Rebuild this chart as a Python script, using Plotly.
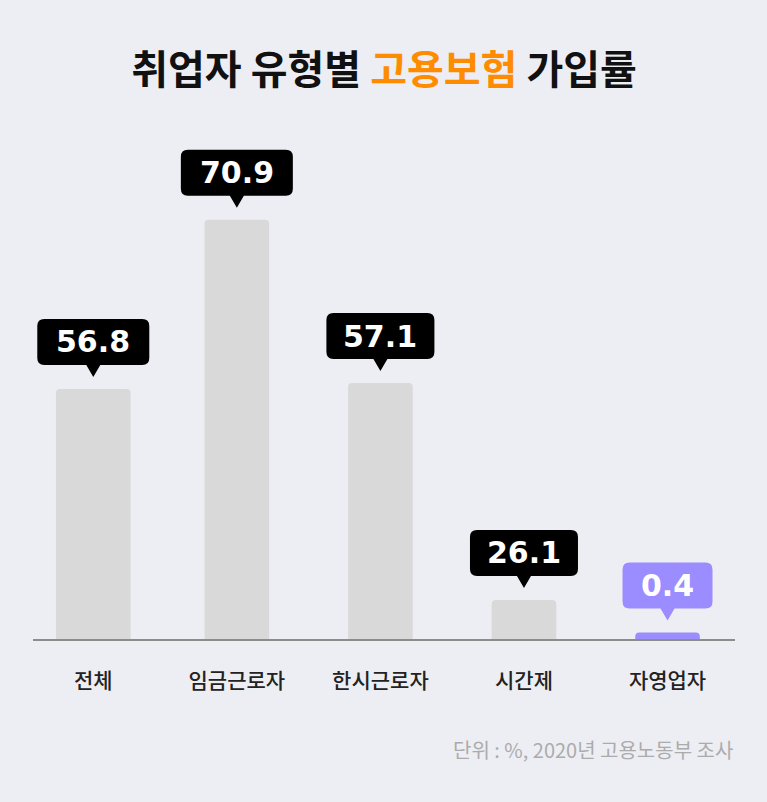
import plotly.graph_objects as go

categories = ["전체", "임금근로자", "한시근로자", "시간제", "자영업자"]
rates = [56.8, 70.9, 57.1, 26.1, 0.4]
# the infographic does not draw its bars to scale, so the drawn heights are read
# off the picture (same units, with the 70.9 bar as the reference)
bar_heights = [42.3, 70.9, 43.3, 6.6, 1.1]
highlight = "자영업자"

title_text = "취업자 유형별 <span style='color:#FF8C00'>고용보험</span> 가입률"
source_text = "단위 : %, 2020년 고용노동부 조사"

GRAY = "#D9D9D9"
PURPLE = "#9B8CFF"
BG = "#EDEEF3"
KR = "Noto Sans CJK KR"


def callout_path(half_w, r=7, tip=12, gap=24, h=46):
    # speech bubble in pixels, relative to the top of the bar (y up)
    top = gap + h
    return (f"M -7,{gap} L 0,{tip} L 7,{gap} L {half_w - r},{gap} "
            f"Q {half_w},{gap} {half_w},{gap + r} L {half_w},{top - r} "
            f"Q {half_w},{top} {half_w - r},{top} L {-half_w + r},{top} "
            f"Q {-half_w},{top} {-half_w},{top - r} L {-half_w},{gap + r} "
            f"Q {-half_w},{gap} {-half_w + r},{gap} Z")


def label_width(txt):
    cw = {".": 10, "1": 18}
    return 36 + sum(cw.get(ch, 22) for ch in txt)


bar_colors = [PURPLE if c == highlight else GRAY for c in categories]

fig = go.Figure(go.Bar(
    x=categories, y=bar_heights,
    marker=dict(color=bar_colors, cornerradius=4, line_width=0),
    width=[0.52, 0.45, 0.45, 0.45, 0.45],
    hoverinfo="skip",
))

for cat, h, v in zip(categories, bar_heights, rates):
    txt = f"{v:.1f}"
    fill = PURPLE if cat == highlight else "#000000"
    fig.add_shape(type="path", xref="x", yref="y",
                  xsizemode="pixel", ysizemode="pixel",
                  xanchor=cat, yanchor=h,
                  path=callout_path(label_width(txt) / 2),
                  fillcolor=fill, line_width=0, layer="above")
    fig.add_annotation(x=cat, y=h, yshift=47, text=f"<b>{txt}</b>",
                       showarrow=False, yanchor="middle",
                       font=dict(family="DejaVu Sans", size=30, color="white"))

fig.add_annotation(xref="paper", yref="paper", x=1, y=-0.2224,
                   xanchor="right", yanchor="middle", showarrow=False,
                   text=source_text, font=dict(family=KR, size=20, color="#ABABAB"))

fig.update_layout(
    width=767, height=802,
    margin=dict(l=33, r=32, t=140, b=163),
    paper_bgcolor=BG, plot_bgcolor=BG,
    showlegend=False,
    title=dict(text=f"<b>{title_text}</b>", x=0.5, xanchor="center",
               xref="paper", yref="container", y=1 - 70 / 802, yanchor="middle",
               font=dict(family=KR, size=40, color="#111111")),
    xaxis=dict(range=[-0.42, 4.47], showline=True, linecolor="#8C8C8C",
               linewidth=1.5, showgrid=False, zeroline=False, ticks="",
               ticklabelstandoff=22,
               tickfont=dict(family=KR, size=21, color="#222222", weight=500)),
    yaxis=dict(range=[0, 84.4], visible=False, showgrid=False, zeroline=False),
)

fig.write_html("out.html", config={"displayModeBar": False},
               post_script="document.body.style.margin='0';")
